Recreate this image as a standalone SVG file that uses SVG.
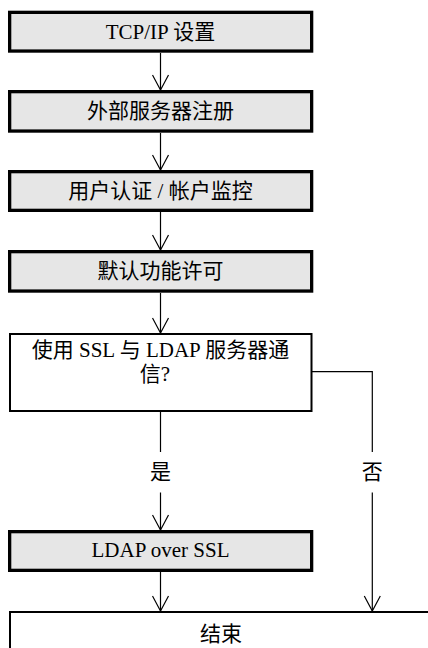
<svg xmlns="http://www.w3.org/2000/svg" width="428" height="648" viewBox="0 0 428 648">
<defs>
<style>
.g{fill:#e6e6e6;stroke:#000;stroke-width:3.3}
.w{fill:#fff;stroke:#000;stroke-width:2}
.t{font-family:"Liberation Serif","Noto Sans CJK SC",serif;font-size:21px;fill:#000;text-anchor:middle}
.c{fill:none;stroke:#000;stroke-width:1.2}
</style>
<marker id="ah" markerWidth="18" markerHeight="18" viewBox="0 0 18 18" refX="16" refY="9" orient="auto" markerUnits="userSpaceOnUse">
<path d="M1,1 L16,9 L1,17" fill="none" stroke="#000" stroke-width="1.2"/>
</marker>
</defs>
<rect width="428" height="648" fill="#fff"/>
<g id="n1"><rect class="g" x="9.65" y="12.35" width="302" height="38.7"/><text class="t" x="160.5" y="38.5">TCP/IP 设置</text></g>
<g id="n2"><rect class="g" x="9.65" y="91.65" width="302" height="39.4"/><text class="t" x="160.5" y="118">外部服务器注册</text></g>
<g id="n3"><rect class="g" x="9.65" y="171.65" width="302" height="38.7"/><text class="t" x="160.5" y="198">用户认证 / 帐户监控</text></g>
<g id="n4"><rect class="g" x="9.65" y="251.65" width="302" height="39.4"/><text class="t" x="160.5" y="278">默认功能许可</text></g>
<g id="n5"><rect class="w" x="10" y="334" width="301.5" height="77"/><text class="t" x="160.5" y="357">使用 SSL 与 LDAP 服务器通</text><text class="t" x="155" y="381">信?</text></g>
<g id="n6"><rect class="g" x="9.65" y="531.65" width="302" height="38.7"/><text class="t" x="160.5" y="557">LDAP over SSL</text></g>
<g id="n7"><rect class="w" x="10" y="612" width="430" height="60"/><text class="t" x="221" y="641">结束</text></g>
<g id="connectors">
<line class="c" x1="160.5" y1="53" x2="160.5" y2="90" marker-end="url(#ah)"/>
<line class="c" x1="160.5" y1="133" x2="160.5" y2="170" marker-end="url(#ah)"/>
<line class="c" x1="160.5" y1="212" x2="160.5" y2="250" marker-end="url(#ah)"/>
<line class="c" x1="160.5" y1="293" x2="160.5" y2="333" marker-end="url(#ah)"/>
<line class="c" x1="160.5" y1="412" x2="160.5" y2="452"/>
<text class="t" x="160.5" y="479">是</text>
<line class="c" x1="160.5" y1="492.5" x2="160.5" y2="530" marker-end="url(#ah)"/>
<line class="c" x1="160.5" y1="572" x2="160.5" y2="611" marker-end="url(#ah)"/>
<polyline class="c" points="312,371.7 372.3,371.7 372.3,452"/>
<text class="t" x="372.3" y="479">否</text>
<line class="c" x1="372.3" y1="492.5" x2="372.3" y2="611" marker-end="url(#ah)"/>
</g>
</svg>
